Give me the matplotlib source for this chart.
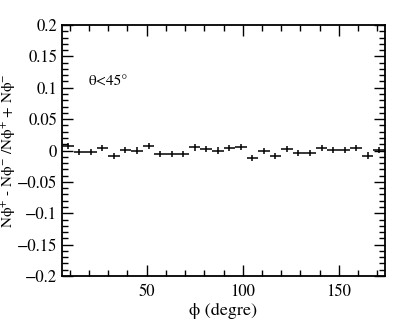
import matplotlib
matplotlib.use('Agg')
import matplotlib.pyplot as plt
from matplotlib.ticker import MultipleLocator, FuncFormatter

plt.rcParams.update({
    'font.family': ['STIXGeneral', 'Liberation Serif', 'DejaVu Serif'],
    'mathtext.fontset': 'stix',
    'font.size': 12,
})

# bin centres (6 degree bins) and asymmetry values
phi = [9, 15, 21, 27, 33, 39, 45, 51, 57, 63, 69, 75, 81, 87,
       93, 99, 105, 111, 117, 123, 129, 135, 141, 147, 153, 159, 165, 171]
asym = [0.007, -0.002, -0.002, 0.0045, -0.009, 0.001, 0.0, 0.007, -0.006,
        -0.005, -0.005, 0.005, 0.0025, 0.0, 0.004, 0.0055, -0.012, -0.001,
        -0.009, 0.0025, -0.0045, -0.0045, 0.0045, 0.001, 0.0005, 0.0045,
        -0.008, 0.001]
asym_err = [0.005] * len(phi)
bin_half = [3] * len(phi)

fig = plt.figure(figsize=(4.15, 3.25), dpi=100)
ax = fig.add_axes([62 / 415, 49 / 325, 323 / 415, 251 / 325])

ax.errorbar(phi, asym, xerr=bin_half, yerr=asym_err, fmt='none',
            ecolor='black', elinewidth=1.1, capsize=0)

ax.set_xlim(6, 174)
ax.set_ylim(-0.2, 0.2)
ax.xaxis.set_major_locator(MultipleLocator(50))
ax.xaxis.set_minor_locator(MultipleLocator(10))
ax.yaxis.set_major_locator(MultipleLocator(0.05))
ax.yaxis.set_minor_locator(MultipleLocator(0.01))
ax.yaxis.set_major_formatter(FuncFormatter(lambda v, p: f'{v:g}'.replace('-', '\u2212')))
ax.tick_params(which='both', direction='in', top=True, right=True, width=1.0)
ax.tick_params(which='major', length=8)
ax.tick_params(which='minor', length=4)
ax.tick_params(axis='x', pad=6)
for sp in ax.spines.values():
    sp.set_linewidth(1.3)

ax.set_xlabel('\u03d5 (degre)', fontsize=13, labelpad=2)
ax.set_ylabel('N\u03d5$^{+}$ - N\u03d5$^{-}$ /N\u03d5$^{+}$ + N\u03d5$^{-}$', fontsize=11)
ax.yaxis.set_label_coords(-0.137, 0.5)
ax.text(20, 0.109, '\u03b8<45\u00b0', fontsize=11, va='center', ha='left')

fig.savefig('out.png', dpi=100)
